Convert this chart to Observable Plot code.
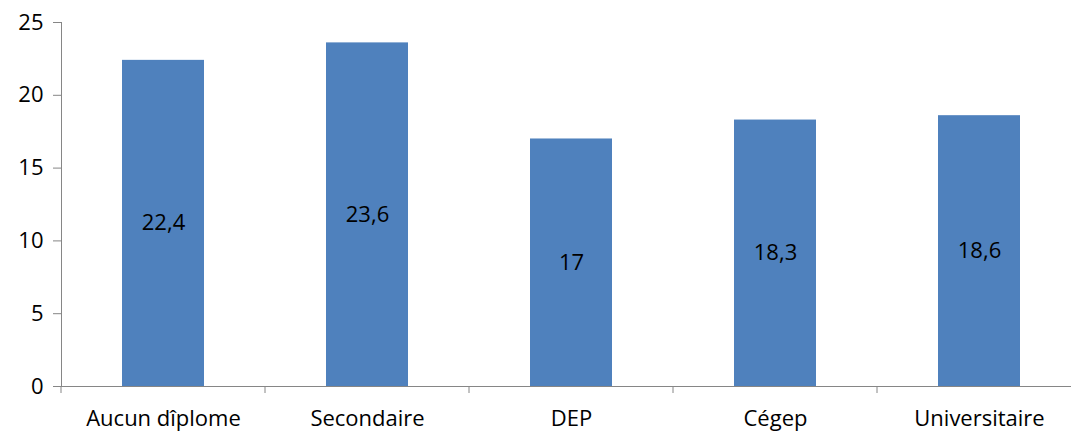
<!DOCTYPE html>
<html><head><meta charset="utf-8">
<script src="https://cdn.jsdelivr.net/npm/d3@7"></script>
<script src="https://cdn.jsdelivr.net/npm/@observablehq/plot@0.6"></script>
<style>body{margin:0;background:#fff}</style>
</head><body><div id="chart"></div>
<script>
const categories = ["Aucun dîplome","Secondaire","DEP","Cégep","Universitaire"];
const values = [22.4,23.6,17,18.3,18.6];
const valueLabels = ["22,4","23,6","17","18,3","18,6"];
const yTicks = [0,5,10,15,20,25];

const data = categories.map((c,i)=>({cat:c, v:values[i], label:valueLabels[i]}));
const font = "'Open Sans', sans-serif";
const axisColor = "#868686";
const fs = 22;

const plot = Plot.plot({
  width: 1071, height: 433,
  marginLeft: 61, marginRight: 0, marginTop: 22, marginBottom: 47,
  style: {fontFamily: font, fontSize: fs + "px", color: "#000", background: "#fff"},
  x: {domain: categories, range: [61, 1081], paddingInner: 0.6, paddingOuter: 0.3, label: null},
  y: {domain: [0,25], label: null},
  marks: [
    Plot.barY(data, {x:"cat", y:"v", fill:"#4F81BD"}),
    Plot.text(data, {x:"cat", y:d=>d.v/2, text:"label", fontSize:fs, fill:"#000"}),
    Plot.axisY({ticks: yTicks, tickSize: 8, tickPadding: 10, stroke: axisColor, fontSize: fs, label: null, tickFormat: d=>String(d)}),
    Plot.axisX({tickSize: 0, tickPadding: 24, fontSize: fs, label: null}),
    Plot.frame({anchor:"left", stroke: axisColor}),
    Plot.frame({anchor:"bottom", stroke: axisColor})
  ]
});

// category boundary ticks below the x axis, via the plot's own scales
const xs = plot.scale("x");
const ys = plot.scale("y");
const step = (xs.range[1]-xs.range[0]) / categories.length;
const y0 = Plot.scale({y: ys}).apply(0);
const g = d3.select(plot).append("g").attr("stroke", axisColor);
for (let i = 0; i <= categories.length; i++) {
  const x = xs.range[0] + i*step;
  g.append("line").attr("x1", x).attr("x2", x).attr("y1", y0).attr("y2", y0+7);
}
document.getElementById("chart").appendChild(plot);
</script>
</body></html>
